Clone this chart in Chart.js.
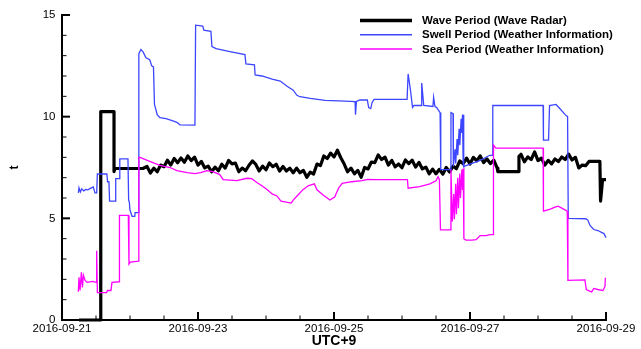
<!DOCTYPE html>
<html>
<head>
<meta charset="utf-8">
<script src="https://cdn.jsdelivr.net/npm/chart.js@4.4.1/dist/chart.umd.min.js"></script>
<style>
  html, body { margin: 0; padding: 0; background: #fff; }
  #wrap { width: 641px; height: 349px; }
</style>
</head>
<body>
<div id="wrap"><canvas id="periodChart" width="641" height="349"></canvas></div>
<script>
// x values are days since 2016-09-21 00:00 (UTC+9)
const xTickLabels = ['2016-09-21', '2016-09-23', '2016-09-25', '2016-09-27', '2016-09-29'];
const yTickLabels = ['0', '5', '10', '15'];
const seriesNames = ['Wave Period (Wave Radar)', 'Swell Period (Weather Information)', 'Sea Period (Weather Information)'];

// Wave radar period [day, t]
const waveRadar = [
  [0.25,0],[0.57,0],[0.57,10.25],[0.765,10.25],[0.765,7.3],[0.78,7.45],[1.19,7.45],
  [1.25,7.55],[1.30,7.23],[1.35,7.47],[1.40,7.29],[1.45,7.62],[1.50,7.54],[1.55,7.86],[1.60,7.62],
  [1.65,7.95],[1.70,7.73],[1.75,7.97],[1.80,7.76],[1.85,8.07],[1.90,7.84],[1.95,8.01],[2.00,7.62],
  [2.05,7.80],[2.10,7.48],[2.15,7.57],[2.20,7.29],[2.25,7.52],[2.30,7.34],[2.35,7.66],[2.40,7.47],
  [2.45,7.85],[2.50,7.68],[2.55,7.72],[2.60,7.29],[2.65,7.47],[2.70,7.34],[2.75,7.61],[2.80,7.82],
  [2.85,7.65],[2.90,7.33],[2.95,7.57],[3.00,7.39],[3.05,7.72],[3.10,7.54],[3.15,7.66],[3.20,7.32],
  [3.25,7.55],[3.30,7.33],[3.35,7.47],[3.40,7.24],[3.45,7.47],[3.50,7.24],[3.55,7.36],[3.60,7.02],
  [3.65,7.27],[3.70,7.18],[3.75,7.67],[3.80,7.59],[3.85,8.07],[3.90,7.94],[3.95,8.21],[4.00,8.02],
  [4.05,8.35],[4.10,7.98],[4.15,7.67],[4.20,7.29],[4.25,7.47],[4.30,7.19],[4.35,7.36],[4.40,7.02],
  [4.45,7.50],[4.50,7.43],[4.55,7.77],[4.60,7.74],[4.65,8.12],[4.70,7.89],[4.75,8.01],[4.80,7.62],
  [4.85,7.85],[4.90,7.53],[4.95,7.67],[5.00,7.49],[5.05,7.87],[5.10,7.69],[5.15,7.86],[5.20,7.52],
  [5.25,7.75],[5.30,7.43],[5.35,7.52],[5.40,7.19],[5.45,7.42],[5.50,7.19],[5.55,7.41],[5.60,7.17],
  [5.65,7.50],[5.70,7.28],[5.75,7.57],[5.80,7.44],[5.85,7.82],[5.90,7.69],[5.95,7.96],[6.00,7.67],
  [6.05,8.00],[6.10,7.83],[6.15,8.07],[6.20,7.74],[6.25,7.92],[6.30,7.69],[6.35,7.86],[6.40,7.47],
  [6.41,7.3],[6.71,7.3],[6.72,8.05],
  [6.75,8.15],[6.80,7.78],[6.85,8.02],[6.90,7.89],[6.95,8.27],[7.00,7.84],[7.05,7.96],[7.10,7.62],
  [7.15,7.85],[7.20,7.68],[7.25,7.92],[7.30,7.79],[7.35,8.02],[7.40,7.89],[7.45,8.16],[7.50,7.87],
  [7.55,8.00],[7.60,7.48],[7.65,7.62],[7.70,7.59],[7.75,7.8],[7.91,7.8],[7.92,5.85],[7.95,6.9],[8.0,6.9]
];

// Swell period [day, t]
const swellPeriod = [
  [0.24,6.25],[0.25,6.5],[0.27,6.3],[0.29,6.45],[0.32,6.35],[0.35,6.42],[0.38,6.4],[0.43,6.5],
  [0.46,6.55],[0.485,6.25],[0.51,6.25],[0.52,7.18],[0.66,7.18],[0.67,6.8],[0.69,6.8],[0.70,5.85],
  [0.78,5.85],[0.79,6.95],[0.84,6.95],[0.85,7.92],[0.97,7.92],[0.98,5.9],[0.99,5.8],[1.0,5.4],
  [1.015,5.25],[1.03,5.1],[1.07,5.1],[1.075,5.28],[1.128,5.28],[1.13,13.1],[1.16,13.3],[1.19,13.2],
  [1.235,12.9],[1.29,12.8],[1.32,12.5],[1.345,12.45],[1.36,10.6],[1.40,10.1],[1.44,9.95],[1.53,9.9],
  [1.62,9.8],[1.69,9.72],[1.735,9.6],[1.955,9.58],[1.965,14.5],[2.07,14.45],[2.085,14.25],[2.19,14.2],
  [2.205,13.45],[2.265,13.35],[2.47,13.2],[2.69,13.05],[2.705,12.6],[2.83,12.55],[2.84,12.05],[2.94,12.0],
  [3.09,11.85],[3.21,11.75],[3.31,11.5],[3.40,11.3],[3.455,11.05],[3.50,10.98],[3.65,10.9],[3.87,10.8],
  [4.16,10.76],[4.31,10.74],[4.316,10.1],[4.33,10.75],[4.38,10.83],[4.49,10.82],[4.51,10.45],[4.54,10.4],
  [4.56,10.7],[4.59,10.85],[5.075,10.85],[5.09,12.1],[5.125,11.3],[5.155,10.45],[5.175,10.55],[5.28,10.55],
  [5.29,11.65],[5.32,10.55],[5.455,10.5],[5.465,10.95],[5.485,10.5],[5.51,10.45],[5.56,10.2],[5.57,7.4],
  [5.715,7.4],[5.72,10.2],[5.75,10.15],[5.755,7.55],[5.78,8.4],[5.79,7.7],[5.81,8.9],[5.82,8.1],
  [5.84,9.4],[5.85,8.6],[5.87,9.9],[5.88,9.2],[5.89,10.1],[5.90,7.6],[5.905,10.1],[5.91,7.55],
  [5.95,7.6],[6.15,7.85],[6.29,8.1],[6.33,8.1],[6.335,10.55],[7.075,10.55],[7.08,8.85],[7.155,8.85],
  [7.17,10.55],[7.265,10.6],[7.32,10.4],[7.40,10.1],[7.435,10.0],[7.445,5.0],[7.705,4.98],[7.735,4.9],
  [7.765,4.65],[7.82,4.45],[7.88,4.4],[7.94,4.3],[7.97,4.25],[8.0,4.05]
];

// Sea period [day, t]
const seaPeriod = [
  [0.24,1.39],[0.25,2.1],[0.265,1.45],[0.285,2.35],[0.30,1.6],[0.315,2.2],[0.34,1.95],[0.37,1.85],
  [0.41,1.88],[0.455,1.9],[0.50,1.85],[0.51,3.4],[0.52,1.35],[0.655,1.35],[0.67,1.45],[0.72,1.45],
  [0.735,1.85],[0.84,1.88],[0.845,5.15],[0.975,5.15],[0.985,2.75],[1.005,2.85],[1.125,2.9],[1.13,8.0],
  [1.147,8.0],[1.29,7.8],[1.44,7.6],[1.59,7.5],[1.69,7.35],[1.84,7.25],[1.955,7.2],[2.04,7.25],
  [2.13,7.35],[2.22,7.3],[2.32,7.15],[2.37,6.9],[2.57,6.85],[2.72,6.97],[2.79,6.95],[2.87,6.75],
  [2.94,6.6],[3.015,6.42],[3.09,6.2],[3.16,6.1],[3.22,5.85],[3.37,5.75],[3.40,5.9],[3.47,6.15],
  [3.54,6.4],[3.62,6.6],[3.71,6.7],[3.75,6.4],[3.84,6.15],[3.94,5.9],[4.01,6.05],[4.07,6.5],
  [4.12,6.72],[4.26,6.8],[4.41,6.85],[4.50,6.92],[4.60,6.9],[5.08,6.9],[5.09,6.48],[5.26,6.56],
  [5.41,6.7],[5.50,6.85],[5.53,7.05],[5.55,6.9],[5.566,4.43],[5.713,4.43],[5.72,7.4],[5.74,4.84],
  [5.76,6.2],[5.77,4.95],[5.79,6.7],[5.80,5.2],[5.82,7.0],[5.83,5.5],[5.85,7.2],[5.86,6.0],
  [5.88,7.4],[5.89,6.4],[5.90,7.45],[5.91,4.0],[5.94,3.93],[6.03,3.93],[6.09,3.95],[6.15,4.15],
  [6.24,4.15],[6.29,4.2],[6.34,4.2],[6.345,8.6],[6.38,8.45],[7.075,8.45],[7.08,5.35],[7.18,5.45],
  [7.25,5.55],[7.295,5.6],[7.35,5.5],[7.43,5.35],[7.44,1.95],[7.69,1.97],[7.71,1.5],[7.76,1.42],
  [7.79,1.38],[7.82,1.55],[7.88,1.5],[7.955,1.45],[7.985,1.65],[7.99,2.05],[8.0,2.05]
];

const FONT = "'Liberation Sans', Arial, Helvetica, sans-serif";
const toXY = pts => pts.map(p => ({ x: p[0], y: p[1] }));

// Inward tick marks and the legend box inside the plot area
const decorPlugin = {
  id: 'decor',
  afterDraw(chart) {
    const ctx = chart.ctx;
    const xs = chart.scales.x, ys = chart.scales.y;
    const area = chart.chartArea;
    ctx.save();
    ctx.strokeStyle = '#000';

    // x ticks: major every 2 days, minor every half day
    for (let v = xs.min; v <= xs.max + 1e-9; v += 0.5) {
      const major = Math.abs(v % 2) < 1e-9;
      const px = xs.getPixelForValue(v);
      ctx.lineWidth = major ? 2 : 1;
      ctx.beginPath();
      ctx.moveTo(px, area.bottom);
      ctx.lineTo(px, area.bottom - (major ? 8 : 4.5));
      ctx.stroke();
    }
    // y ticks: major every 5, minor every 1
    for (let v = ys.min; v <= ys.max + 1e-9; v += 1) {
      const major = v % 5 === 0;
      const py = ys.getPixelForValue(v);
      ctx.lineWidth = major ? 2 : 1;
      ctx.beginPath();
      ctx.moveTo(area.left, py);
      ctx.lineTo(area.left + (major ? 8 : 4.5), py);
      ctx.stroke();
    }

    // legend
    ctx.font = 'bold 11.5px ' + FONT;
    ctx.textBaseline = 'middle';
    ctx.textAlign = 'left';
    ctx.fillStyle = '#000';
    chart.data.datasets.forEach((ds, i) => {
      const y = 20.5 + i * 14.2;
      ctx.strokeStyle = ds.borderColor;
      ctx.lineWidth = i === 0 ? 3.5 : 1.5;
      ctx.beginPath();
      ctx.moveTo(360, y);
      ctx.lineTo(412, y);
      ctx.stroke();
      ctx.fillText(ds.label, 422, y + 0.5);
    });
    ctx.restore();
  }
};

const ctx = document.getElementById('periodChart').getContext('2d');
const periodChart = new Chart(ctx, {
  type: 'line',
  data: {
    datasets: [
      { label: seriesNames[0], data: toXY(waveRadar), borderColor: '#000000', borderWidth: 3.2, borderJoinStyle: 'round', order: 3, clip: false },
      { label: seriesNames[1], data: toXY(swellPeriod), borderColor: '#3c46ff', borderWidth: 1.3, order: 2, clip: false },
      { label: seriesNames[2], data: toXY(seaPeriod), borderColor: '#ff00ff', borderWidth: 1.3, order: 1, clip: false }
    ]
  },
  options: {
    responsive: false,
    animation: false,
    devicePixelRatio: 1,
    layout: { padding: { left: 7, top: 15, right: 35, bottom: 0 } },
    elements: { point: { radius: 0 }, line: { tension: 0, fill: false } },
    plugins: { legend: { display: false }, tooltip: { enabled: false } },
    scales: {
      x: {
        type: 'linear', min: 0, max: 8,
        afterFit: s => { s.height = 29; },
        ticks: {
          stepSize: 2, padding: 1.5, color: '#000', maxRotation: 0, autoSkip: false,
          font: { family: FONT, size: 11.5 },
          callback: v => xTickLabels[v / 2]
        },
        grid: { display: false, drawTicks: false },
        border: { display: true, color: '#000', width: 2 },
        title: { display: true, text: 'UTC+9', color: '#000', padding: 0, font: { family: FONT, size: 14, weight: 'bold', lineHeight: 1.1 } }
      },
      y: {
        min: 0, max: 15,
        afterFit: s => { s.width = 55; },
        ticks: {
          stepSize: 5, padding: 6.5, color: '#000',
          font: { family: FONT, size: 11.5 },
          callback: v => yTickLabels[v / 5]
        },
        grid: { display: false, drawTicks: false },
        border: { display: true, color: '#000', width: 2 },
        title: { display: true, text: 't', color: '#000', padding: 0, font: { family: FONT, size: 12, weight: 'bold', lineHeight: 1.2 } }
      }
    }
  },
  plugins: [decorPlugin]
});
</script>
</body>
</html>
